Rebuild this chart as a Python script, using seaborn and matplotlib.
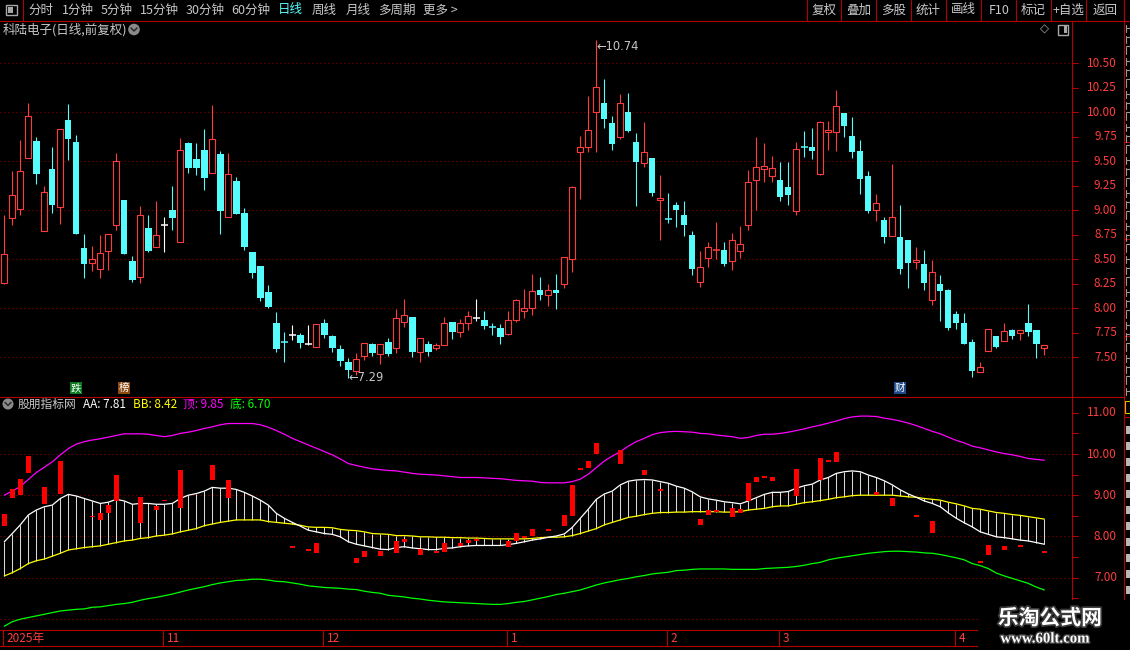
import matplotlib
matplotlib.use("Agg")
import matplotlib.pyplot as plt
import matplotlib.patheffects as pe
from matplotlib.lines import Line2D
from matplotlib.patches import Rectangle, Circle
from matplotlib.transforms import Affine2D
import numpy as np
import seaborn as sns

sns.set_style("dark", {"axes.facecolor": "black", "figure.facecolor": "black"})
plt.rcParams['font.family'] = ['Noto Sans CJK SC', 'DejaVu Sans']

# ---- daily candles ----
open_ = [8.26, 8.92, 9.01, 9.53, 9.71, 8.79, 9.42, 9.03, 9.92, 9.70,
         8.62, 8.46, 8.40, 8.58, 8.85, 9.11, 8.48, 8.32, 8.82, 8.63,
         8.85, 9.00, 8.68, 9.69, 9.52, 9.62, 9.38, 9.57, 8.93, 9.30,
         8.97, 8.57, 8.43, 8.17, 7.85, 7.67, 7.73, 7.73, 7.64, 7.60,
         7.85, 7.72, 7.58, 7.45, 7.36, 7.51, 7.64, 7.53, 7.66, 7.59,
         7.86, 7.91, 7.55, 7.64, 7.59, 7.63, 7.86, 7.76, 7.85, 7.90,
         7.88, 7.82, 7.80, 7.74, 7.88, 7.97, 8.00, 8.19, 8.14, 8.19,
         8.25, 8.50, 9.60, 9.65, 10.00, 10.09, 9.89, 9.75, 10.00, 9.70,
         9.48, 9.53, 9.11, 8.92, 9.05, 8.95, 8.75, 8.27, 8.51, 8.59,
         8.59, 8.48, 8.58, 8.85, 9.31, 9.42, 9.35, 9.31, 9.24, 8.99,
         9.66, 9.65, 9.37, 9.80, 9.80, 9.99, 9.76, 9.61, 9.35, 9.00,
         8.90, 8.74, 8.73, 8.70, 8.47, 8.45, 8.08, 8.25, 8.19, 7.94,
         7.85, 7.66, 7.35, 7.56, 7.72, 7.67, 7.78, 7.75, 7.85, 7.78,
         7.59]
high = [8.95, 9.40, 9.72, 10.09, 9.75, 9.25, 9.65, 9.83, 10.08, 9.77,
        8.76, 8.64, 8.75, 8.76, 9.58, 9.11, 8.53, 9.04, 8.95, 9.10,
        8.93, 9.25, 9.74, 9.70, 9.69, 9.83, 10.07, 9.61, 9.58, 9.34,
        9.02, 8.57, 8.43, 8.24, 7.96, 7.76, 7.83, 7.75, 7.83, 7.84,
        7.89, 7.73, 7.63, 7.49, 7.54, 7.65, 7.65, 7.64, 7.70, 7.99,
        8.09, 7.91, 7.70, 7.67, 7.65, 7.91, 7.86, 7.89, 7.97, 8.09,
        7.97, 7.85, 7.84, 7.97, 8.09, 8.20, 8.35, 8.32, 8.25, 8.35,
        8.52, 9.25, 9.76, 10.17, 10.74, 10.34, 9.96, 10.19, 10.20, 9.79,
        9.90, 9.53, 9.36, 9.18, 9.08, 9.09, 8.79, 8.58, 8.68, 8.88,
        8.68, 8.77, 8.84, 9.41, 9.75, 9.69, 9.55, 9.49, 9.49, 9.70,
        9.81, 9.84, 9.91, 9.91, 10.23, 9.99, 9.95, 9.72, 9.40, 9.17,
        8.93, 9.47, 9.05, 8.70, 8.63, 8.59, 8.49, 8.34, 8.20, 7.97,
        7.95, 7.69, 7.45, 7.79, 7.72, 7.85, 7.79, 7.78, 8.04, 7.78,
        7.63]
low = [8.25, 8.85, 8.95, 9.53, 9.27, 8.79, 8.97, 8.86, 9.51, 8.76,
       8.31, 8.38, 8.31, 8.39, 8.80, 8.55, 8.27, 8.26, 8.57, 8.63,
       8.57, 8.80, 8.68, 9.38, 9.36, 9.21, 9.38, 8.76, 8.93, 8.96,
       8.59, 8.31, 8.07, 8.00, 7.55, 7.45, 7.68, 7.59, 7.63, 7.60,
       7.70, 7.55, 7.41, 7.29, 7.32, 7.47, 7.51, 7.43, 7.51, 7.54,
       7.81, 7.50, 7.45, 7.51, 7.57, 7.63, 7.69, 7.71, 7.78, 7.87,
       7.79, 7.73, 7.64, 7.73, 7.86, 7.90, 7.93, 8.08, 8.02, 7.99,
       8.21, 8.37, 9.12, 9.59, 9.59, 9.84, 9.62, 9.73, 9.80, 9.04,
       9.44, 9.15, 8.70, 8.87, 8.83, 8.74, 8.34, 8.22, 8.42, 8.50,
       8.43, 8.39, 8.51, 8.80, 9.00, 9.29, 9.29, 9.09, 9.05, 8.95,
       9.54, 9.52, 9.36, 9.62, 9.61, 9.75, 9.53, 9.17, 8.97, 8.89,
       8.67, 8.74, 8.35, 8.21, 8.40, 8.19, 8.03, 7.87, 7.78, 7.79,
       7.64, 7.30, 7.35, 7.56, 7.59, 7.67, 7.69, 7.68, 7.72, 7.49,
       7.52]
close = [8.55, 9.16, 9.40, 9.96, 9.37, 9.19, 9.05, 9.83, 9.73, 8.76,
         8.45, 8.50, 8.56, 8.76, 9.50, 8.55, 8.29, 8.95, 8.58, 8.75,
         8.85, 8.92, 9.62, 9.43, 9.43, 9.33, 9.73, 8.99, 9.37, 8.96,
         8.63, 8.36, 8.11, 8.01, 7.58, 7.66, 7.73, 7.65, 7.64, 7.84,
         7.73, 7.59, 7.46, 7.37, 7.48, 7.65, 7.54, 7.64, 7.53, 7.90,
         7.93, 7.55, 7.70, 7.55, 7.63, 7.85, 7.76, 7.85, 7.92, 7.90,
         7.82, 7.81, 7.71, 7.88, 8.08, 8.00, 8.18, 8.14, 8.19, 8.16,
         8.52, 9.24, 9.65, 9.82, 10.26, 9.93, 9.68, 10.09, 9.81, 9.49,
         9.60, 9.18, 9.13, 8.91, 9.00, 8.85, 8.40, 8.42, 8.63, 8.60,
         8.45, 8.70, 8.66, 9.29, 9.44, 9.45, 9.43, 9.14, 9.16, 9.63,
         9.65, 9.61, 9.90, 9.82, 10.06, 9.86, 9.59, 9.32, 8.99, 9.07,
         8.73, 8.93, 8.40, 8.46, 8.49, 8.26, 8.37, 8.18, 7.80, 7.85,
         7.64, 7.36, 7.40, 7.79, 7.60, 7.77, 7.72, 7.78, 7.76, 7.64,
         7.63]

# ---- indicator lines ----
aa = [7.87, 8.07, 8.28, 8.52, 8.64, 8.72, 8.76, 8.92, 9.02, 8.98,
      8.92, 8.86, 8.80, 8.83, 8.90, 8.86, 8.78, 8.80, 8.80, 8.78,
      8.78, 8.80, 8.92, 9.00, 9.04, 9.10, 9.19, 9.17, 9.17, 9.14,
      9.07, 8.98, 8.88, 8.76, 8.56, 8.44, 8.34, 8.25, 8.15, 8.11,
      8.07, 8.05, 7.99, 7.87, 7.81, 7.77, 7.73, 7.69, 7.68, 7.73,
      7.75, 7.72, 7.70, 7.68, 7.68, 7.71, 7.72, 7.75, 7.77, 7.78,
      7.78, 7.78, 7.78, 7.80, 7.83, 7.87, 7.91, 7.94, 7.98, 8.01,
      8.06, 8.22, 8.44, 8.66, 8.90, 9.03, 9.10, 9.25, 9.34, 9.37,
      9.38, 9.37, 9.33, 9.29, 9.22, 9.17, 9.08, 8.96, 8.91, 8.88,
      8.84, 8.82, 8.79, 8.86, 8.94, 9.02, 9.07, 9.07, 9.09, 9.17,
      9.23, 9.27, 9.37, 9.43, 9.53, 9.57, 9.59, 9.57, 9.49, 9.43,
      9.35, 9.25, 9.13, 9.03, 8.95, 8.86, 8.80, 8.72, 8.57, 8.44,
      8.33, 8.23, 8.11, 8.05, 7.99, 7.97, 7.94, 7.91, 7.89, 7.85,
      7.81]
bb = [7.04, 7.12, 7.22, 7.34, 7.41, 7.45, 7.52, 7.59, 7.67, 7.70,
      7.73, 7.75, 7.77, 7.81, 7.85, 7.89, 7.91, 7.95, 7.97, 8.01,
      8.03, 8.06, 8.11, 8.15, 8.19, 8.26, 8.30, 8.34, 8.37, 8.40,
      8.40, 8.40, 8.40, 8.36, 8.34, 8.32, 8.30, 8.27, 8.23, 8.22,
      8.22, 8.21, 8.17, 8.15, 8.14, 8.11, 8.07, 8.06, 8.05, 8.02,
      8.02, 8.01, 7.99, 7.99, 7.98, 7.98, 7.97, 7.97, 7.96, 7.96,
      7.95, 7.94, 7.94, 7.94, 7.94, 7.94, 7.95, 7.97, 7.98, 7.98,
      7.99, 8.02, 8.07, 8.13, 8.19, 8.28, 8.34, 8.40, 8.46, 8.49,
      8.53, 8.56, 8.58, 8.58, 8.59, 8.59, 8.60, 8.60, 8.60, 8.60,
      8.59, 8.59, 8.60, 8.64, 8.66, 8.68, 8.72, 8.74, 8.74, 8.78,
      8.82, 8.84, 8.87, 8.90, 8.94, 8.96, 8.99, 9.00, 9.00, 9.00,
      9.00, 9.00, 8.98, 8.96, 8.95, 8.92, 8.90, 8.88, 8.83, 8.79,
      8.74, 8.68, 8.66, 8.62, 8.58, 8.56, 8.53, 8.51, 8.48, 8.45,
      8.42]
top = [9.00, 9.10, 9.21, 9.38, 9.55, 9.68, 9.81, 9.98, 10.13, 10.24,
       10.30, 10.34, 10.37, 10.41, 10.45, 10.49, 10.49, 10.49, 10.48, 10.45,
       10.42, 10.45, 10.50, 10.53, 10.57, 10.62, 10.66, 10.71, 10.74, 10.74,
       10.74, 10.74, 10.71, 10.65, 10.57, 10.48, 10.38, 10.30, 10.22, 10.14,
       10.06, 9.98, 9.88, 9.77, 9.72, 9.68, 9.64, 9.62, 9.60, 9.59,
       9.56, 9.53, 9.51, 9.50, 9.49, 9.47, 9.45, 9.43, 9.43, 9.43,
       9.42, 9.41, 9.40, 9.38, 9.36, 9.35, 9.34, 9.31, 9.30, 9.30,
       9.30, 9.33, 9.39, 9.51, 9.67, 9.83, 9.95, 10.06, 10.19, 10.30,
       10.38, 10.47, 10.52, 10.54, 10.55, 10.54, 10.53, 10.50, 10.49, 10.46,
       10.44, 10.42, 10.38, 10.40, 10.45, 10.48, 10.48, 10.50, 10.53, 10.57,
       10.61, 10.66, 10.70, 10.75, 10.80, 10.86, 10.90, 10.92, 10.92, 10.91,
       10.87, 10.84, 10.80, 10.75, 10.69, 10.62, 10.55, 10.49, 10.41, 10.33,
       10.27, 10.19, 10.15, 10.10, 10.05, 10.01, 9.98, 9.94, 9.89, 9.87,
       9.85]
bottom = [5.82, 5.93, 5.99, 6.03, 6.07, 6.11, 6.15, 6.19, 6.21, 6.23,
          6.24, 6.28, 6.29, 6.32, 6.35, 6.37, 6.40, 6.45, 6.49, 6.52,
          6.56, 6.60, 6.65, 6.70, 6.74, 6.78, 6.83, 6.87, 6.90, 6.93,
          6.94, 6.96, 6.96, 6.94, 6.91, 6.90, 6.87, 6.84, 6.80, 6.78,
          6.76, 6.75, 6.74, 6.72, 6.71, 6.67, 6.64, 6.62, 6.57, 6.55,
          6.53, 6.50, 6.48, 6.45, 6.43, 6.41, 6.40, 6.39, 6.38, 6.37,
          6.36, 6.35, 6.35, 6.37, 6.40, 6.42, 6.46, 6.50, 6.54, 6.59,
          6.62, 6.66, 6.70, 6.76, 6.82, 6.87, 6.91, 6.95, 6.98, 7.02,
          7.05, 7.09, 7.11, 7.13, 7.17, 7.18, 7.20, 7.21, 7.21, 7.21,
          7.21, 7.20, 7.20, 7.20, 7.20, 7.22, 7.23, 7.24, 7.25, 7.27,
          7.30, 7.34, 7.37, 7.43, 7.47, 7.50, 7.53, 7.56, 7.59, 7.61,
          7.63, 7.64, 7.64, 7.63, 7.62, 7.60, 7.59, 7.56, 7.52, 7.48,
          7.43, 7.34, 7.29, 7.22, 7.11, 7.04, 6.98, 6.92, 6.86, 6.77,
          6.70]

# axis texts
price_ticks = [7.50, 7.75, 8.00, 8.25, 8.50, 8.75, 9.00, 9.25, 9.50, 9.75, 10.00, 10.25, 10.50]
price_grid = [7.5, 8.0, 8.5, 9.0, 9.5, 10.0, 10.5]
ind_labels = [7.0, 8.0, 9.0, 10.0, 11.0]
ind_ticks = [6.5, 7.0, 7.5, 8.0, 8.5, 9.0, 9.5, 10.0, 10.5, 11.0]
ind_grid = [6.0, 7.0, 8.0, 9.0, 10.0]
month_names = ['2025年', '11', '12', '1', '2', '3', '4']
month_start = [0, 20, 40, 63, 83, 97, 119]
event_days = [9, 15, 112]
event_text = ['跌', '榜', '财']
event_color = ['#0A7A1E', '#8A4A12', '#1C4A8A']

menu_left = ['分时', '1分钟', '5分钟', '15分钟', '30分钟', '60分钟', '日线', '周线', '月线', '多周期', '更多 >']
menu_right = ['复权', '叠加', '多股', '统计', '画线', 'F10', '标记', '+自选', '返回']

W, H = 1130, 650
RED = '#FF3C3C'
EDGE = '#B40000'
GRID = '#8C0000'
CYAN = '#54FCFC'
TXT = '#C8C8C8'

fig = plt.figure(figsize=(W / 100, H / 100), dpi=100)
fig.patch.set_facecolor('black')
tpx = Affine2D().scale(1.0 / W, -1.0 / H).translate(0, 1) + fig.transFigure


def add_panel(x0, y0, x1, y1):
    ax = fig.add_axes([x0 / W, 1 - y1 / H, (x1 - x0) / W, (y1 - y0) / H])
    ax.set_axis_off()
    return ax


def line_px(xs, ys, color=EDGE, lw=0.8, z=5):
    fig.add_artist(Line2D(xs, ys, transform=tpx, color=color, lw=lw, zorder=z))


AXR = 1072.4
XL = ((0 - 4.3) / 8, (AXR - 4.3) / 8)
o, h, l, c = map(np.array, (open_, high, low, close))
idx = np.arange(len(c))

# ---------------- main candle panel ----------------
ax = add_panel(0, 20.5, AXR, 396)
ax.set_xlim(XL)
ax.set_ylim(7.105, 10.937)
yt = ax.get_yaxis_transform()
ax.hlines(price_grid, 0, 1, transform=yt, colors=GRID, linestyles=(0, (1, 2.6)), lw=0.8, zorder=1)

up = c > o + 0.015
dn = c < o - 0.015
flat = ~up & ~dn
ax.vlines(idx[up], c[up], h[up], colors=RED, lw=0.8, zorder=2)
ax.vlines(idx[up], l[up], o[up], colors=RED, lw=0.8, zorder=2)
ax.bar(idx[up], c[up] - o[up], bottom=o[up], width=0.72, facecolor='black',
       edgecolor=RED, linewidth=0.8, zorder=3)
ax.vlines(idx[dn], l[dn], h[dn], colors=CYAN, lw=0.8, zorder=2)
ax.bar(idx[dn], o[dn] - c[dn], bottom=c[dn], width=0.8, color=CYAN, linewidth=0, zorder=3)
for k in idx[flat]:
    col = 'white' if c[k] == o[k] else (RED if c[k] > o[k] else CYAN)
    ax.vlines(k, l[k], h[k], colors=col, lw=0.8, zorder=2)
    ax.hlines(c[k], k - 0.42, k + 0.42, colors=col, lw=1.1, zorder=3)

kh = int(np.argmax(h))
kl = int(np.argmin(l))
ax.text(kh, h[kh], '\u2190' + f'{h[kh]:.2f}', color=TXT, fontsize=8.3, va='top', ha='left',
        family=['DejaVu Sans'], zorder=6)
ax.text(kl, l[kl], '\u2190' + f'{l[kl]:.2f}', color=TXT, fontsize=8.3, va='center', ha='left',
        family=['DejaVu Sans'], zorder=6)

for d, s, bg in zip(event_days, event_text, event_color):
    ax.text(d, 0.022, s, transform=ax.get_xaxis_transform(), ha='center', va='center',
            color='white', fontsize=7.5, zorder=6,
            bbox=dict(boxstyle='square,pad=0.08', facecolor=bg, edgecolor='none'))

ax.hlines(price_ticks, 1.0, 1078 / AXR, transform=yt, colors=EDGE, lw=0.8, clip_on=False)
for v in price_ticks:
    ax.text(1117 / AXR, v, f'{v:.2f}', transform=yt, ha='right', va='center',
            color=RED, fontsize=8.5, clip_on=False)

# ---------------- indicator panel ----------------
iax = add_panel(0, 396, AXR, 630)
iax.set_xlim(XL)
iax.set_ylim(5.728, 11.408)
iyt = iax.get_yaxis_transform()
iax.hlines(ind_grid, 0, 1, transform=iyt, colors=GRID, linestyles=(0, (1, 2.6)), lw=0.8, zorder=1)

a = np.array(aa)
b = np.array(bb)
iax.vlines(idx, np.minimum(a, b), np.maximum(a, b), colors='#D8D8D8', lw=0.75, zorder=2)
sns.lineplot(x=idx, y=top, ax=iax, color='#FF00FF', linewidth=0.9, legend=False, zorder=3)
sns.lineplot(x=idx, y=bottom, ax=iax, color='#00FF00', linewidth=0.9, legend=False, zorder=3)
sns.lineplot(x=idx, y=bb, ax=iax, color='#FFFF00', linewidth=0.9, legend=False, zorder=3)
sns.lineplot(x=idx, y=aa, ax=iax, color='white', linewidth=0.9, legend=False, zorder=3)
rise = c >= o
iax.bar(idx[rise], np.maximum(c[rise] - o[rise], 0.045), bottom=o[rise], width=0.66,
        color='#FF0000', linewidth=0, zorder=4)
iax.set_xlim(XL)
iax.set_ylim(5.728, 11.408)
iax.set_axis_off()

iax.hlines(ind_ticks, 1.0, 1078 / AXR, transform=iyt, colors=EDGE, lw=0.8, clip_on=False)
for v in ind_labels:
    iax.text(1117 / AXR, v, f'{v:.2f}', transform=iyt, ha='right', va='center',
             color=RED, fontsize=8.5, clip_on=False)

# header of indicator
fig.add_artist(Circle((8, 404), 5.5, transform=tpx, facecolor='#8A8A8A', edgecolor='none'))
line_px([5, 8, 11], [402.5, 405.5, 402.5], color='#2A2A2A', lw=1.1, z=6)
fig.text(18, 404, '股朋指标网', transform=tpx, color=TXT, fontsize=8.5, va='center')
fig.text(83, 404, f'AA: {aa[-1]:.2f}', transform=tpx, color='white', fontsize=8.5, va='center')
fig.text(133, 404, f'BB: {bb[-1]:.2f}', transform=tpx, color='#FFFF00', fontsize=8.5, va='center')
fig.text(183, 404, f'顶: {top[-1]:.2f}', transform=tpx, color='#FF00FF', fontsize=8.5, va='center')
fig.text(230, 404, f'底: {bottom[-1]:.2f}', transform=tpx, color='#00FF00', fontsize=8.5, va='center')

# ---------------- date axis ----------------
dax = add_panel(0, 630, AXR, 646)
dax.set_xlim(XL)
dax.set_ylim(0, 1)
dax.vlines(np.array(month_start) - 0.12, 0, 1, colors=EDGE, lw=0.8)
for pos, name in zip(month_start, month_names):
    dax.text(pos + 0.3, 0.45, name, color=RED, fontsize=8.5, va='center', ha='left')

# ---------------- frame lines ----------------
line_px([0, W], [20.5, 20.5])
line_px([23.4, 23.4], [0, 20.5])
line_px([0, 1123.6], [396.5, 396.5])
line_px([0, 978], [630, 630])
line_px([0, 978], [646, 646])
line_px([AXR, AXR], [20.5, 600])
line_px([1123.6, 1123.6], [0, 600])
for yy in [141.7, 239.3, 336, 417]:
    line_px([1123.6, W], [yy, yy])

# cut-off side list at the right edge, only its left strokes are visible
for i in range(34):
    yy = 28 + i * 11
    line_px([1125.5, 1125.5], [yy - 3.5, yy + 3.5], color='#9A9A9A', lw=0.8)
    line_px([1125.5, W], [yy - (i % 3) * 2, yy - (i % 3) * 2], color='#9A9A9A', lw=0.8)
for i in range(11):
    yy = 430 + i * 16
    fig.add_artist(Rectangle((1125.5, yy - 4), 4.5, 8, transform=tpx, facecolor='#B8B8B8',
                             edgecolor='none'))
fig.add_artist(Rectangle((1124.5, 401), 8, 12, transform=tpx, facecolor='none',
                         edgecolor='#C8C800', lw=0.8))

# ---------------- toolbar ----------------
fig.add_artist(Rectangle((5.5, 4.5), 11.5, 10.5, transform=tpx, facecolor='none',
                         edgecolor='#A8A8A8', lw=1.0))
fig.add_artist(Rectangle((7.5, 6.5), 5, 6.5, transform=tpx, facecolor='#A8A8A8',
                         edgecolor='none'))
menu_x = [28.8, 62, 100.2, 139.8, 185.6, 231.7, 278.2, 311.7, 345.2, 378.4, 422.7]
for s, xx in zip(menu_left, menu_x):
    fig.text(xx, 10, s, transform=tpx, color=CYAN if s == '日线' else TXT,
             fontsize=9, va='center', ha='left')
sep_x = [807.2, 841.4, 876.4, 911, 945.9, 981.2, 1016.2, 1051.1, 1086.1, 1123.6]
for xs in sep_x:
    line_px([xs, xs], [0, 20.5])
for s, x0, x1 in zip(menu_right, sep_x[:-1], sep_x[1:]):
    fig.text((x0 + x1) / 2, 10, s, transform=tpx, color=TXT, fontsize=9,
             va='center', ha='center')

# title row
fig.text(3, 29.5, '科陆电子(日线,前复权)', transform=tpx, color=TXT, fontsize=9, va='center')
fig.add_artist(Circle((134, 29.5), 5.8, transform=tpx, facecolor='#8A8A8A', edgecolor='none'))
line_px([131, 134, 137], [28, 31, 28], color='#2A2A2A', lw=1.1, z=6)
fig.text(1044, 29.5, '\u25c7', transform=tpx, color='#A8A8A8', fontsize=8.5, va='center',
         ha='center', family=['DejaVu Sans'])
fig.add_artist(Rectangle((1058, 24.5), 10, 10, transform=tpx, facecolor='none',
                         edgecolor='#A8A8A8', lw=1.0))
fig.add_artist(Rectangle((1063.5, 26), 3, 7, transform=tpx, facecolor='#A8A8A8',
                         edgecolor='none'))

# ---------------- watermark ----------------
fig.add_artist(Rectangle((978, 600), 152, 50, transform=tpx, facecolor='black',
                         edgecolor='none', zorder=20))
fig.text(1050, 618, '乐淘公式网', transform=tpx, color='white', fontsize=15, weight='bold',
         ha='center', va='center', zorder=21,
         path_effects=[pe.withStroke(linewidth=2.5, foreground='#3A3A3A')])
fig.text(1045, 639, 'www.60lt.com', transform=tpx, color='white', fontsize=10.7,
         weight='bold', family=['Liberation Serif'], ha='center', va='center', zorder=21,
         path_effects=[pe.withStroke(linewidth=2, foreground='#3A3A3A')])

fig.savefig('out.png', dpi=100, facecolor='black')
